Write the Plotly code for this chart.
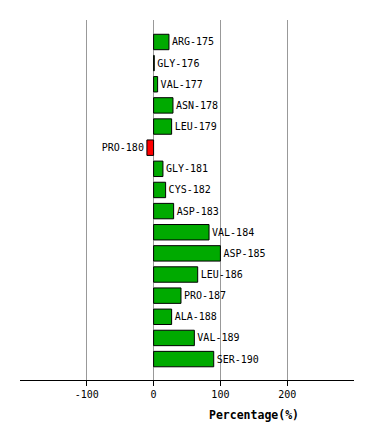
import plotly.graph_objects as go

residues = ["ARG-175", "GLY-176", "VAL-177", "ASN-178", "LEU-179", "PRO-180", "GLY-181",
            "CYS-182", "ASP-183", "VAL-184", "ASP-185", "LEU-186", "PRO-187", "ALA-188",
            "VAL-189", "SER-190"]
percentages = [23, 1, 6, 29, 27, -10, 14, 18, 30, 83, 100, 66, 41, 27, 61, 90]
tick_vals = [-100, 0, 100, 200]
tick_text = ["-100", "0", "100", "200"]

colors = ["#00AA00" if v >= 0 else "#FF0000" for v in percentages]

# page body has an 8px margin, so figure is shrunk accordingly
W, H = 366, 432
L, R, T, B = 12, 20, 12, 60
plot_h = H - T - B

fig = go.Figure()
fig.add_trace(go.Bar(
    x=percentages, y=residues, orientation="h",
    marker=dict(color=colors, line=dict(color="black", width=1)),
    text=residues, textposition="outside", cliponaxis=False,
    textfont=dict(family="DejaVu Sans Mono", size=10, color="black"),
    width=0.73,
))

fig.update_layout(
    width=W, height=H,
    margin=dict(l=L, r=R, t=T, b=B),
    plot_bgcolor="white", paper_bgcolor="white",
    showlegend=False,
    font=dict(family="DejaVu Sans Mono", size=10, color="black"),
    xaxis=dict(range=[-200, 300], tickvals=tick_vals, ticktext=tick_text,
               showgrid=True, gridcolor="#999999", gridwidth=1,
               zeroline=False, showline=True, linecolor="black", linewidth=1,
               ticks="outside", ticklen=5, tickcolor="black",
               tickfont=dict(family="DejaVu Sans Mono", size=10)),
    yaxis=dict(range=[15.99, -1.04], showticklabels=False, showgrid=False,
               zeroline=False, showline=False, ticks=""),
    annotations=[dict(text="<b>Percentage(%)</b>",
                      x=(254 - 8 - L) / (W - L - R), xref="paper",
                      y=-(415 - 380) / plot_h, yref="paper",
                      xanchor="center", yanchor="middle", showarrow=False,
                      font=dict(family="DejaVu Sans Mono", size=11.5, color="black"))],
)

fig.write_html("out.html")
